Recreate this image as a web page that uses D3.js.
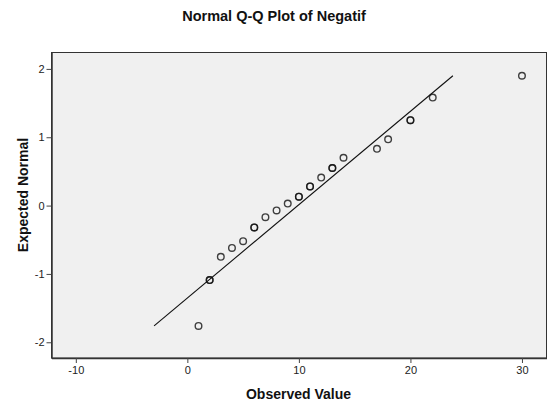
<!DOCTYPE html>
<html>
<head>
<meta charset="utf-8">
<script src="https://cdn.jsdelivr.net/npm/d3@7"></script>
<style>
    body { margin: 0; background: #fff; }
    svg { display: block; font-family: "Liberation Sans", Arial, sans-serif; }
</style>
</head>
<body>
<div class="chart"></div>
<script>
// observed values, expected normal quantiles, number of cases at each value
var observed = [1, 2, 3, 4, 5, 6, 7, 8, 9, 10, 11, 12, 13, 14, 17, 18, 20, 22, 30];
var expected = [-1.76, -1.09, -0.75, -0.62, -0.52, -0.32, -0.17, -0.07, 0.03, 0.13, 0.28, 0.41, 0.55, 0.70, 0.83, 0.97, 1.25, 1.58, 1.90];
var cases = [1, 2, 1, 1, 1, 2, 1, 1, 1, 2, 2, 1, 2, 1, 1, 1, 2, 1, 1];
var xTicks = [-10, 0, 10, 20, 30];
var yTicks = [-2, -1, 0, 1, 2];
var lineMean = 9.9;
var lineSd = 7.32;

var width = 549, height = 405;
var margin = { top: 52.5, right: 2.5, bottom: 47, left: 51.5 };

var svg = d3.select(".chart")
            .append("svg")
            .attr("width", width)
            .attr("height", height);

var x = d3.scaleLinear()
          .domain([-12.18, 32.2])
          .range([margin.left, width - margin.right]);

var y = d3.scaleLinear()
          .domain([-2.23, 2.24])
          .range([height - margin.bottom, margin.top]);

var plainNum = function(d) {
    return String(d); // keep a hyphen minus like the original
};

svg.append("rect")
    .attr("x", margin.left)
    .attr("y", margin.top)
    .attr("width", width - margin.left - margin.right)
    .attr("height", height - margin.top - margin.bottom)
    .attr("fill", "#f0f0f0")
    .attr("stroke", "#333")
    .attr("stroke-width", 1);

var xAxis = svg.append("g")
    .attr("transform", "translate(0," + (height - margin.bottom) + ")")
    .call(d3.axisBottom(x).tickValues(xTicks).tickFormat(plainNum)
        .tickSizeInner(5).tickSizeOuter(0).tickPadding(3));

var yAxis = svg.append("g")
    .attr("transform", "translate(" + margin.left + ",0)")
    .call(d3.axisLeft(y).tickValues(yTicks).tickFormat(plainNum)
        .tickSizeInner(5).tickSizeOuter(0).tickPadding(2));

[xAxis, yAxis].forEach(function(ax) {
    ax.select(".domain").attr("stroke", "#333").attr("stroke-width", 1.5);
    ax.selectAll(".tick line").attr("stroke", "#444");
    ax.selectAll(".tick text")
        .attr("fill", "#222")
        .style("font-size", "11px")
        .style("font-family", "'Liberation Sans', Arial, sans-serif");
});

// reference line across the range of expected values
var yExt = d3.extent(expected);
svg.append("line")
    .attr("x1", x(lineMean + lineSd * yExt[0]))
    .attr("y1", y(yExt[0]))
    .attr("x2", x(lineMean + lineSd * yExt[1]))
    .attr("y2", y(yExt[1]))
    .attr("stroke", "#111")
    .attr("stroke-width", 1.1);

var pts = [];
for (var i = 0; i < observed.length; i++) {
    for (var j = 0; j < cases[i]; j++) {
        pts.push({ x: observed[i], y: expected[i] });
    }
}

svg.selectAll("circle.pt")
    .data(pts)
    .enter().append("circle")
    .attr("class", "pt")
    .attr("cx", function(d) { return x(d.x); })
    .attr("cy", function(d) { return y(d.y); })
    .attr("r", 3.3)
    .attr("fill", "none")
    .attr("stroke", "#111")
    .attr("stroke-opacity", 0.8)
    .attr("stroke-width", 1.4);

svg.append("text")
    .attr("x", 274)
    .attr("y", 21)
    .attr("text-anchor", "middle")
    .style("font-size", "14.5px")
    .style("font-weight", "bold")
    .attr("fill", "#111")
    .text("Normal Q-Q Plot of Negatif");

svg.append("text")
    .attr("x", 298.5)
    .attr("y", 398.5)
    .attr("text-anchor", "middle")
    .style("font-size", "14px")
    .style("font-weight", "bold")
    .attr("fill", "#111")
    .text("Observed Value");

svg.append("text")
    .attr("transform", "translate(28,195) rotate(-90)")
    .attr("text-anchor", "middle")
    .style("font-size", "14px")
    .style("font-weight", "bold")
    .attr("fill", "#111")
    .text("Expected Normal");
</script>
</body>
</html>
